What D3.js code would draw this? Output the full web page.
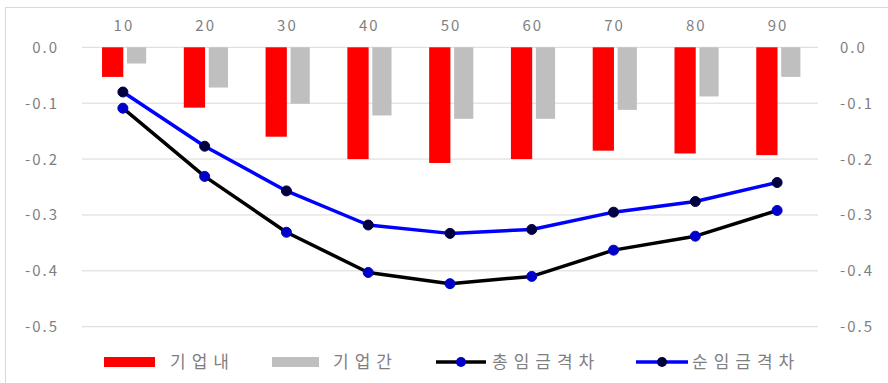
<!DOCTYPE html>
<html><head><meta charset="utf-8">
<script src="https://cdn.jsdelivr.net/npm/d3@7"></script>
<style>
html,body{margin:0;padding:0;background:#fff;}
svg text{font-family:"Noto Sans CJK KR","Noto Sans",sans-serif;}
</style></head>
<body><svg id="c" width="888" height="383"></svg>
<script>
const categories = ["10","20","30","40","50","60","70","80","90"];
const within = [-0.053,-0.108,-0.160,-0.200,-0.207,-0.200,-0.185,-0.190,-0.193];
const between = [-0.029,-0.072,-0.101,-0.122,-0.128,-0.128,-0.112,-0.088,-0.053];
const totalGap = [-0.109,-0.231,-0.331,-0.403,-0.423,-0.410,-0.363,-0.338,-0.292];
const netGap = [-0.080,-0.177,-0.257,-0.318,-0.333,-0.326,-0.295,-0.276,-0.242];
const yTicks = [0,-0.1,-0.2,-0.3,-0.4,-0.5];
const seriesNames = ["기업내","기업간","총임금격차","순임금격차"];

const svg = d3.select("#c");
svg.append("rect").attr("x",5.5).attr("y",7.5).attr("width",890).attr("height",390)
  .attr("fill","#fff").attr("stroke","#d9d9d9");

const x = d3.scaleBand().domain(categories).range([82,818]).paddingInner(0).paddingOuter(0);
const y = d3.scaleLinear().domain([0,-0.5]).range([47.3,326.7]);

// gridlines
svg.append("g").selectAll("line").data(yTicks).join("line")
  .attr("x1",82).attr("x2",818).attr("y1",d=>y(d)).attr("y2",d=>y(d))
  .attr("stroke","#d9d9d9").attr("stroke-width",1);

const fmt = d => (d < 0 ? "-" : "") + Math.abs(d).toFixed(1);
const tickColor = "#7f7f7f";
const ls = 2;
const fs = 15;
// left axis
const la = svg.append("g").attr("transform",`translate(${57+ls},0)`)
  .call(d3.axisLeft(y).tickValues(yTicks).tickFormat(fmt).tickSize(0).tickPadding(0));
la.select(".domain").remove();
la.selectAll("text").attr("fill",tickColor).attr("font-size",fs).attr("letter-spacing",ls+"px").attr("dy","0.33em");
// right axis
const ra = svg.append("g").attr("transform","translate(840,0)")
  .call(d3.axisRight(y).tickValues(yTicks).tickFormat(fmt).tickSize(0).tickPadding(0));
ra.select(".domain").remove();
ra.selectAll("text").attr("fill",tickColor).attr("font-size",fs).attr("letter-spacing",ls+"px").attr("dy","0.33em");
// top axis
const ta = svg.append("g").attr("transform",`translate(${ls/2},31)`)
  .call(d3.axisTop(x).tickSize(0).tickPadding(0));
ta.select(".domain").remove();
ta.selectAll("text").attr("fill",tickColor).attr("font-size",fs).attr("letter-spacing",ls+"px");

const bw = x.bandwidth();
// bars
svg.append("g").selectAll("rect").data(categories).join("rect")
  .attr("x",d=>x(d)+bw*0.245).attr("width",bw*0.26)
  .attr("y",y(0)).attr("height",(d,i)=>y(within[i])-y(0)).attr("fill","#ff0000");
svg.append("g").selectAll("rect").data(categories).join("rect")
  .attr("x",d=>x(d)+bw*0.55).attr("width",bw*0.235)
  .attr("y",y(0)).attr("height",(d,i)=>y(between[i])-y(0)).attr("fill","#bfbfbf");

const cx = d=>x(d)+bw/2;
const line = d3.line().x(d=>cx(d[0])).y(d=>y(d[1]));
function drawLine(vals,color,mColor){
  const pts = categories.map((c,i)=>[c,vals[i]]);
  svg.append("path").datum(pts).attr("d",line).attr("fill","none")
    .attr("stroke",color).attr("stroke-width",3.5).attr("stroke-linejoin","round");
  svg.append("g").selectAll("circle").data(pts).join("circle")
    .attr("cx",d=>cx(d[0])).attr("cy",d=>y(d[1])).attr("r",5)
    .attr("fill",mColor).attr("stroke",mColor);
}
drawLine(totalGap,"#000000","#0000c8");
drawLine(netGap,"#0000ff","#000040");

// legend
const lg = svg.append("g");
const ly = 362;
lg.append("rect").attr("x",104).attr("y",ly-5).attr("width",51).attr("height",10).attr("fill","#ff0000");
lg.append("rect").attr("x",272).attr("y",ly-5).attr("width",47).attr("height",10).attr("fill","#bfbfbf");
lg.append("line").attr("x1",436).attr("x2",486).attr("y1",ly).attr("y2",ly).attr("stroke","#000").attr("stroke-width",3.5);
lg.append("circle").attr("cx",461).attr("cy",ly).attr("r",5).attr("fill","#0000c8");
lg.append("line").attr("x1",636).attr("x2",688).attr("y1",ly).attr("y2",ly).attr("stroke","#0000ff").attr("stroke-width",3.5);
lg.append("circle").attr("cx",662).attr("cy",ly).attr("r",5).attr("fill","#000040");
const lx = [170,333,492,692];
lg.selectAll("text").data(seriesNames).join("text")
  .attr("x",(d,i)=>lx[i]).attr("y",ly).attr("dy","0.35em")
  .attr("font-size",17).attr("letter-spacing","6px").attr("fill",tickColor).text(d=>d);
</script></body></html>
